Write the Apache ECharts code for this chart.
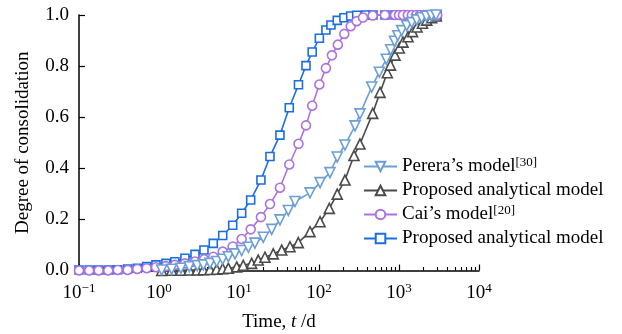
<!DOCTYPE html>
<html>
<head>
<meta charset="utf-8">
<script src="https://cdn.jsdelivr.net/npm/echarts@6/dist/echarts.min.js"></script>
<style>
html,body{margin:0;padding:0;background:#fff;}
#chart{width:622px;height:334px;}
</style>
</head>
<body>
<div id="chart"></div>
<script>
// ---- data ----
// Perera's model [30]
const timePerera = [1.08, 1.44, 1.88, 2.39, 3.01, 3.58, 4.34, 5.26, 6.25, 7.35, 8.91, 10.8, 13.1, 15.8, 20.1, 25.6, 32.5, 41.3, 50.1, 77.2, 103, 137, 169, 211, 282, 325, 456, 567, 694, 787, 879, 964, 1081, 1248, 1442, 1664, 1921, 2207, 2548, 2901];
const degreePerera = [0.002, 0.005, 0.009, 0.015, 0.019, 0.022, 0.028, 0.035, 0.044, 0.054, 0.065, 0.078, 0.091, 0.107, 0.130, 0.161, 0.198, 0.235, 0.270, 0.304, 0.344, 0.383, 0.444, 0.491, 0.566, 0.613, 0.718, 0.776, 0.827, 0.864, 0.897, 0.919, 0.939, 0.958, 0.970, 0.981, 0.989, 0.995, 0.998, 1.0];
// Proposed analytical model (black)
const timeProposedA = [1.08, 1.44, 1.88, 2.39, 3.01, 3.58, 4.34, 5.26, 6.25, 7.35, 9.36, 11.3, 14.4, 17.4, 21.1, 26.8, 34.2, 43.4, 55.1, 77.2, 103, 134.5, 169, 211, 274, 325, 469, 579, 714, 783, 891, 1008, 1122, 1296, 1475, 1679, 1966, 2219, 2563, 2926];
const degreeProposedA = [0, 0.001, 0.001, 0.002, 0.002, 0.003, 0.004, 0.005, 0.007, 0.009, 0.014, 0.020, 0.028, 0.041, 0.052, 0.065, 0.080, 0.093, 0.109, 0.152, 0.191, 0.243, 0.299, 0.354, 0.450, 0.495, 0.615, 0.697, 0.774, 0.804, 0.843, 0.871, 0.894, 0.915, 0.935, 0.953, 0.968, 0.980, 0.989, 0.996];
// Cai's model [20]
const timeCai = [0.1, 0.134, 0.176, 0.232, 0.305, 0.406, 0.535, 0.702, 0.917, 1.22, 1.58, 2.11, 2.82, 3.65, 4.77, 6.26, 8.34, 10.8, 14.0, 18.8, 24.4, 32.5, 42.5, 55.4, 68.8, 82.2, 101, 122, 145, 172, 207, 249, 296, 355, 469, 667, 891, 1000, 1120, 1290, 1450, 1640, 1830, 2050, 2290, 2650, 3000];
const degreeCai = [0, 0, 0, 0, 0.002, 0.002, 0.006, 0.009, 0.013, 0.017, 0.022, 0.028, 0.035, 0.044, 0.054, 0.074, 0.094, 0.123, 0.161, 0.209, 0.260, 0.324, 0.415, 0.496, 0.568, 0.645, 0.728, 0.792, 0.842, 0.884, 0.926, 0.956, 0.976, 0.990, 0.998, 1, 1, 1, 1, 1, 1, 1, 1, 1, 1, 1, 1];
// Proposed analytical model (blue)
const timeProposedB = [0.1, 0.134, 0.176, 0.232, 0.305, 0.406, 0.535, 0.702, 0.917, 1.22, 1.58, 2.11, 2.82, 3.65, 4.77, 6.26, 8.34, 10.8, 14.0, 18.8, 24.4, 32.5, 42.5, 55.4, 68.8, 82.2, 101, 122, 141, 169, 205, 249, 296, 383, 473, 667, 891, 1250, 1750, 2250, 3000];
const degreeProposedB = [0.002, 0.002, 0.002, 0.002, 0.003, 0.006, 0.009, 0.015, 0.022, 0.028, 0.034, 0.048, 0.063, 0.080, 0.106, 0.137, 0.177, 0.224, 0.276, 0.354, 0.446, 0.530, 0.637, 0.727, 0.802, 0.855, 0.909, 0.941, 0.961, 0.979, 0.989, 0.996, 0.999, 1, 1, 1, 1, 1, 1, 1, 1];

const legendNames = ['Perera’s model', 'Proposed analytical model', 'Cai’s model', 'Proposed analytical model'];
const legendRefs = ['[30]', '', '[20]', ''];
const xMajorTicks = [0.1, 1, 10, 100, 1000, 10000];
const xMinorTicks = [0.2,0.3,0.4,0.5,0.6,0.7,0.8,0.9, 2,3,4,5,6,7,8,9, 20,30,40,50,60,70,80,90, 200,300,400,500,600,700,800,900, 2000,3000,4000,5000,6000,7000,8000,9000];

const FONT = 'Liberation Serif';
const FS = 19;
const colors = ['#6b9fd6', '#4a4a4a', '#ac72e0', '#1a6ee0'];
const symbols = ['triangle', 'triangle', 'circle', 'rect'];
const rotates = [180, 0, 0, 0];
const sizes = [10, 10, 9, 8];
const seriesIds = ['perera', 'proposedA', 'cai', 'proposedB'];
const times = [timePerera, timeProposedA, timeCai, timeProposedB];
const degrees = [degreePerera, degreeProposedA, degreeCai, degreeProposedB];

function pairs(t, u) { return t.map((v, i) => [v, u[i]]); }

const drawOrder = [1, 3, 2, 0];
const series = drawOrder.map(i => ({
  name: seriesIds[i],
  type: 'line',
  data: pairs(times[i], degrees[i]),
  symbol: symbols[i],
  symbolRotate: rotates[i],
  symbolSize: sizes[i],
  showAllSymbol: true,
  animation: false,
  lineStyle: { color: colors[i], width: 1.6 },
  itemStyle: { color: '#fff', borderColor: colors[i], borderWidth: 1.6 },
  emphasis: { disabled: true }
}));

const sup = n => n < 0 ? '−' + (-n) : String(n);

const chart = echarts.init(document.getElementById('chart'), null, { renderer: 'canvas' });
chart.setOption({
  backgroundColor: '#fff',
  animation: false,
  textStyle: { fontFamily: FONT, color: '#000' },
  grid: { left: 79, right: 143, top: 15, bottom: 63.5, containLabel: false, outerBoundsMode: 'none' },
  legend: {
    data: seriesIds,
    orient: 'vertical',
    left: 358,
    top: 151,
    itemWidth: 33,
    itemHeight: 12,
    itemGap: 3,
    selectedMode: false,
    formatter: name => {
      const i = seriesIds.indexOf(name);
      return '{t|' + legendNames[i] + '}' + (legendRefs[i] ? '{s|' + legendRefs[i] + '}' : '');
    },
    textStyle: {
      fontFamily: FONT, color: '#000', fontSize: FS, lineHeight: 21,
      rich: {
        t: { fontFamily: FONT, fontSize: FS, lineHeight: 21, color: '#000' },
        s: { fontFamily: FONT, fontSize: 13, lineHeight: 13, verticalAlign: 'top', color: '#000' }
      }
    }
  },
  xAxis: [{
    type: 'log',
    logBase: 10,
    min: 0.1,
    max: 10000,
    name: '{n|Time, }{i|t}{n| /d}',
    nameLocation: 'middle',
    nameGap: 42,
    nameTextStyle: {
      rich: {
        n: { fontFamily: FONT, fontSize: FS, color: '#000' },
        i: { fontFamily: FONT, fontSize: FS, fontStyle: 'italic', color: '#000' }
      }
    },
    axisLine: { lineStyle: { color: '#000', width: 1.5 } },
    axisTick: { show: true, inside: true, length: 6, lineStyle: { color: '#000', width: 1.2 }, customValues: xMajorTicks },
    axisLabel: {
      margin: 12,
      customValues: xMajorTicks,
      formatter: v => '{b|10}{e|' + sup(Math.round(Math.log10(v))) + '}',
      rich: {
        b: { fontFamily: FONT, fontSize: FS, lineHeight: 21, color: '#000' },
        e: { fontFamily: FONT, fontSize: 13, lineHeight: 13, verticalAlign: 'top', color: '#000' }
      }
    },
    splitLine: { show: false },
    minorTick: { show: false }
  }, {
    type: 'log',
    logBase: 10,
    min: 0.1,
    max: 10000,
    position: 'bottom',
    axisLine: { show: false },
    axisLabel: { show: false },
    axisTick: { show: true, inside: true, length: 3.5, lineStyle: { color: '#000', width: 1.1 }, customValues: xMinorTicks },
    splitLine: { show: false }
  }],
  yAxis: {
    type: 'value',
    min: 0,
    max: 1,
    interval: 0.2,
    name: 'Degree of consolidation',
    nameLocation: 'middle',
    nameGap: 46,
    nameTextStyle: { fontFamily: FONT, fontSize: FS, color: '#000' },
    axisLine: { show: true, lineStyle: { color: '#000', width: 1.5 } },
    axisTick: { show: true, inside: true, length: 6, lineStyle: { color: '#000', width: 1.2 } },
    axisLabel: { margin: 10, fontFamily: FONT, fontSize: FS, color: '#000', formatter: v => v.toFixed(1) },
    splitLine: { show: false }
  },
  series: series
});
</script>
</body>
</html>
